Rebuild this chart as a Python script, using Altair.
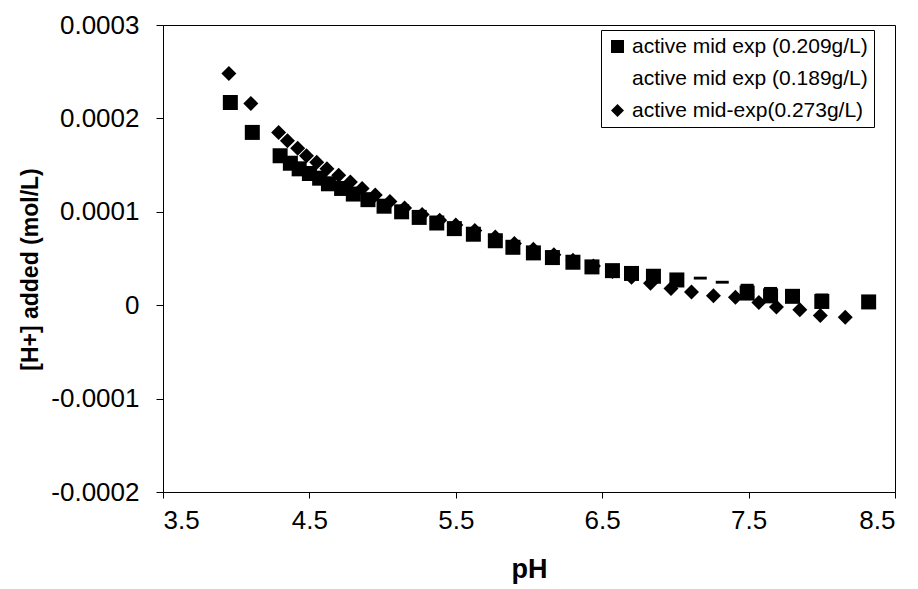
import altair as alt
import pandas as pd

labels = ["active mid exp (0.209g/L)", "active mid exp (0.189g/L)", "active mid-exp(0.273g/L)"]

# series 0.209 g/L (squares)
x_sq = [3.96, 4.11, 4.30, 4.37, 4.43, 4.50, 4.57, 4.63, 4.72, 4.80, 4.90, 5.01, 5.13, 5.25, 5.37,
        5.49, 5.62, 5.77, 5.89, 6.03, 6.16, 6.30, 6.43, 6.57, 6.70, 6.85, 7.01, 7.49, 7.65, 7.80,
        8.00, 8.32]
y_sq = [0.000217, 0.000185, 0.000160, 0.000152, 0.000146, 0.000141, 0.000136, 0.000130, 0.000125,
        0.000119, 0.000113, 0.000106, 0.000100, 0.000094, 0.000088, 0.000082, 0.000076, 0.000069,
        0.000062, 0.000056, 0.000051, 0.000046, 0.000041, 0.000037, 0.000034, 0.000031, 0.000027,
        0.000013, 0.000010, 0.0000095, 0.000004, 0.0000035]

# series 0.189 g/L (dash markers)
x_da = [6.85, 7.01, 7.17, 7.32, 7.49, 7.65, 7.80, 8.00]
y_da = [0.000033, 0.000033, 0.000029, 0.0000246, 0.0000214, 0.000018, 0.000015, 0.000011]

# series 0.273 g/L (diamonds)
x_di = [3.95, 4.10, 4.29, 4.35, 4.42, 4.48, 4.55, 4.62, 4.70, 4.78, 4.86, 4.95, 5.05, 5.15, 5.27,
        5.39, 5.50, 5.63, 5.77, 5.90, 6.03, 6.17, 6.30, 6.44, 6.57, 6.70, 6.83, 6.97, 7.11, 7.26,
        7.41, 7.57, 7.69, 7.85, 7.99, 8.16]
y_di = [0.000248, 0.000216, 0.000185, 0.000176, 0.000168, 0.000160, 0.000153, 0.000146, 0.000139,
        0.000132, 0.000125, 0.000118, 0.000111, 0.000104, 0.000097, 0.000091, 0.000086, 0.000080,
        0.000073, 0.000066, 0.000060, 0.000054, 0.000048, 0.000042, 0.000036, 0.000030, 0.0000235,
        0.000018, 0.000014, 0.000010, 0.0000085, 0.000003, -0.000002, -0.000005, -0.000011,
        -0.000013]

x_ticks = [3.5, 4.5, 5.5, 6.5, 7.5, 8.5]
y_ticks = [-0.0002, -0.0001, 0, 0.0001, 0.0002, 0.0003]

df_main = pd.concat([
    pd.DataFrame({"pH": x_sq, "H": y_sq, "series": labels[0]}),
    pd.DataFrame({"pH": x_di, "H": y_di, "series": labels[2]}),
])
df_dash = pd.DataFrame({"pH": x_da, "H": y_da, "series": labels[1]})

FONT = "Liberation Sans"

xenc = alt.X("pH:Q", scale=alt.Scale(domain=[3.5, 8.5], nice=False, zero=False),
             axis=alt.Axis(title="pH", values=x_ticks, format=".1f", grid=False,
                           tickSize=6, labelPadding=9, titlePadding=23,
                           labelFontSize=26, titleFontSize=27, titleFontWeight="bold",
                           labelFont=FONT, titleFont=FONT))
yenc = alt.Y("H:Q", scale=alt.Scale(domain=[-0.0002, 0.0003], nice=False, zero=False),
             axis=alt.Axis(title="[H+] added (mol/L)", values=y_ticks, grid=False,
                           labelExpr="datum.value < 0 ? '-' + format(-datum.value, '.4f') : (datum.value == 0 ? '0' : format(datum.value, '.4f'))",
                           tickSize=7, labelPadding=17,
                           titleX=-121, titleY=244,
                           labelFontSize=26, titleFontSize=23, titleFontWeight="bold",
                           labelFont=FONT, titleFont=FONT))

dash = alt.Chart(df_dash).mark_point(filled=True, color="black", opacity=1).encode(
    x=xenc, y=yenc,
    shape=alt.value("M-1,-0.22L1,-0.22L1,0.22L-1,0.22Z"),
    size=alt.value(169),
)

main = alt.Chart(df_main).mark_point(filled=True, color="black", opacity=1, size=225).encode(
    x=xenc, y=yenc,
    shape=alt.Shape("series:N",
                    scale=alt.Scale(domain=labels, range=["square", "M0,0", "diamond"]),
                    legend=alt.Legend(title=None, orient="none", legendX=438, legendY=5,
                                      strokeColor="black", fillColor="white", padding=6,
                                      labelFontSize=21, labelFont=FONT, labelColor="black",
                                      labelLimit=0, symbolSize=169, symbolFillColor="black",
                                      symbolStrokeWidth=0, symbolType="square",
                                      rowPadding=10, labelOffset=4)),
)

chart = alt.layer(dash, main).properties(
    width=732, height=467,
    autosize=alt.AutoSizeParams(type="none"),
    padding={"left": 163, "top": 25, "right": 23, "bottom": 97},
).configure_view(stroke="black", strokeWidth=1).configure_axis(
    domainColor="black", tickColor="black", labelColor="black", titleColor="black"
)

chart.save("out.html", embed_options={"renderer": "svg", "actions": False})
